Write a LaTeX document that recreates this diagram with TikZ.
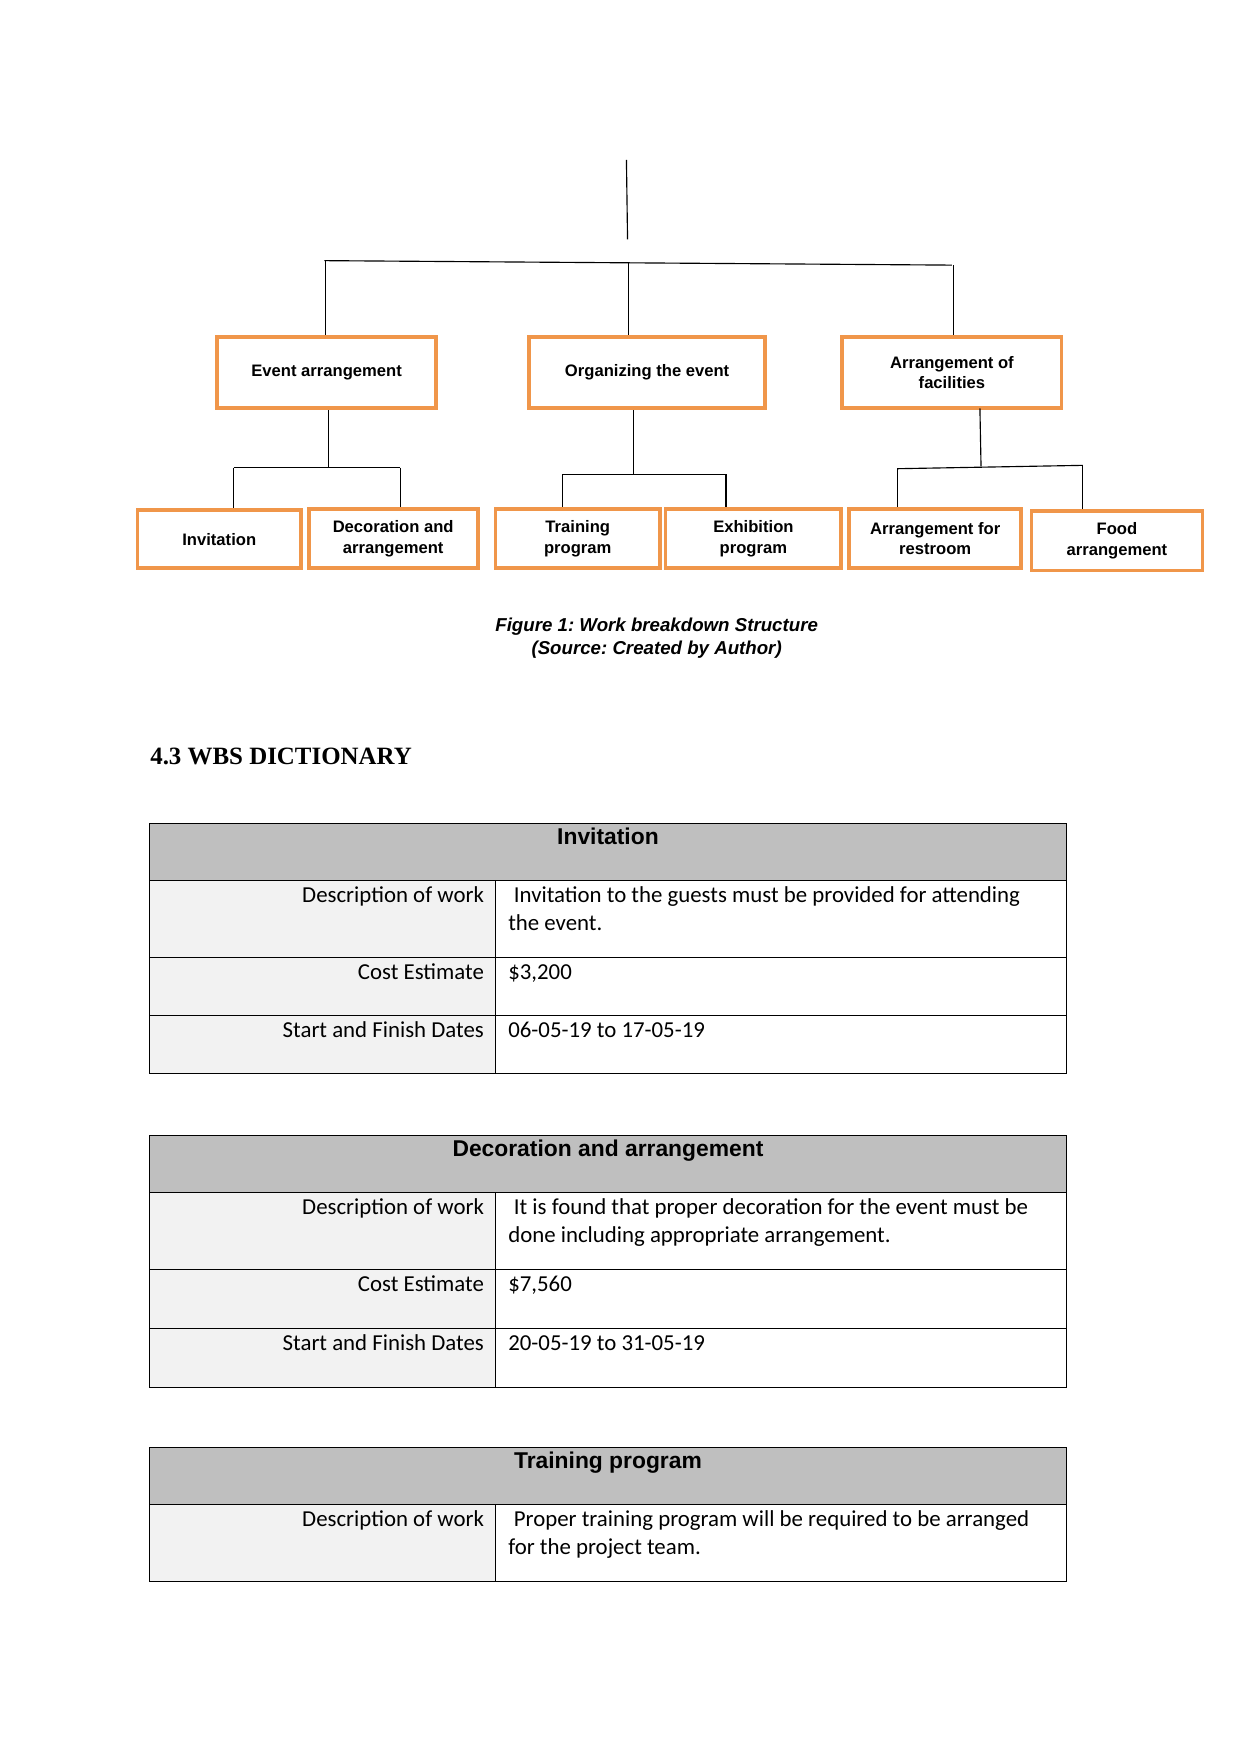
\documentclass[tikz,border=0pt]{standalone}
\usepackage{fontspec}
\setmainfont{Liberation Sans}
\newfontfamily\headserif{Liberation Serif}
\newfontfamily\carlitofont{Carlito}
\usetikzlibrary{fit}
\definecolor{wbsorange}{HTML}{F0964A}
\definecolor{hdrgray}{HTML}{BFBFBF}
\definecolor{lblgray}{HTML}{F2F2F2}
\frenchspacing
\begin{document}
\begin{tikzpicture}[x=0.018936cm, y=-0.018936cm,
  wbox/.style={draw=wbsorange, line width=1.8pt, inner sep=0pt},
  boxtext/.style={inner sep=0pt, align=center, font=\bfseries\fontsize{8}{10}\selectfont},
  conn/.style={draw=black, line width=0.55pt},
  tline/.style={draw=black, line width=0.5pt},
  hdrtext/.style={anchor=base, inner sep=0pt, font=\bfseries\fontsize{11}{13.7}\selectfont},
  lbltext/.style={anchor=base east, inner sep=0pt, font=\carlitofont\fontsize{11}{13.7}\selectfont},
  valtext/.style={anchor=base west, inner sep=0pt, font=\carlitofont\fontsize{11}{13.7}\selectfont},
  captext/.style={anchor=base, inner sep=0pt, font=\bfseries\itshape\fontsize{9}{11}\selectfont}]
\useasboundingbox (0,0) rectangle (1109,1568);

% ---------- WBS boxes ----------
\node[wbox, fit={(194,301)(390,365)}, label={[boxtext]center:Event arrangement}] (ea) {};
\node[wbox, fit={(473,301)(684,365)}, label={[boxtext]center:Organizing the event}] (og) {};
\node[wbox, fit={(753,301)(949,365)}, label={[boxtext]center:Arrangement of\\facilities}] (af) {};
\node[wbox, fit={(123,456)(269,508)}, label={[boxtext]center:Invitation}] (inv) {};
\node[wbox, fit={(276,455)(427,508)}, label={[boxtext]center:Decoration and\\arrangement}] (dec) {};
\node[wbox, fit={(443,455)(590,508)}, label={[boxtext]center:Training\\program}] (tp) {};
\node[wbox, fit={(595,455)(752,508)}, label={[boxtext]center:Exhibition\\program}] (ex) {};
\node[wbox, fit={(759,455)(913,508)}, label={[boxtext]center:Arrangement for\\restroom}] (rr) {};
\node[wbox, fit={(922,457)(1075,510)}, label={[boxtext]center:Food\\arrangement}] (fd) {};

% ---------- connectors ----------
\coordinate (r0) at (560,143);
\coordinate (r1) at (561,214);
\draw[conn] (r0) -- (r1);
\coordinate (bL) at (290,233);
\coordinate (bR) at (851,237);
\draw[conn] (bL) -- (bR);
\coordinate (d1) at (291,233);
\coordinate (d2) at (562,235);
\coordinate (d3) at (852,237);
\draw[conn] (d1) -- (d1 |- ea.north);
\draw[conn] (d2) -- (d2 |- og.north);
\draw[conn] (d3) -- (d3 |- af.north);

\coordinate (e1) at (294,418);
\coordinate (e2) at (209,418);
\coordinate (e3) at (358,418);
\draw[conn] (ea.south -| e1) -- (e1);
\draw[conn] (e2) -- (e3);
\draw[conn] (e2) -- (e2 |- inv.north);
\draw[conn] (e3) -- (e3 |- dec.north);

\coordinate (o1) at (566,424);
\coordinate (o2) at (503,424);
\coordinate (o3) at (649,424);
\draw[conn] (og.south -| o1) -- (o1);
\draw[conn] (o2) -- (o3);
\draw[conn] (o2) -- (o2 |- tp.north);
\draw[conn] (o3) -- (o3 |- ex.north);

\coordinate (f0) at (876,365);
\coordinate (f1) at (877,417);
\coordinate (f2) at (802,419);
\coordinate (f3) at (968,416);
\draw[conn] (f0) -- (f1);
\draw[conn] (f2) -- (f3);
\draw[conn] (f2) -- (f2 |- rr.north);
\draw[conn] (f3) -- (f3 |- fd.north);

% ---------- caption and heading ----------
\node[captext] (cap1) at (587,564.5) {Figure 1: Work breakdown Structure};
\node[captext] (cap2) at (587,585) {(Source: Created by Author)};
\node[anchor=base west, inner sep=0pt, font=\headserif\bfseries\fontsize{12}{14}\selectfont] (head) at (134,683) {4.3 WBS DICTIONARY};

% ---------- Table 1 ----------
\fill[hdrgray] (134,736) rectangle (953,787);
\fill[lblgray] (134,787) rectangle (443,960);
\draw[tline] (134,736) rectangle (953,960);
\draw[tline] (134,787) -- (953,787);
\draw[tline] (134,856) -- (953,856);
\draw[tline] (134,908) -- (953,908);
\draw[tline] (443,787) -- (443,960);
\node[hdrtext] (t1h) at (543.5,755) {Invitation};
\node[lbltext] (t1l1) at (433,806.5) {Description of work};
\node[valtext] (t1v1) at (454,806.5) {\begin{tabular}[t]{@{}l@{}}\hspace*{2.7pt}Invitation to the guests must be provided for attending\\the event.\end{tabular}};
\node[lbltext] (t1l2) at (433,875.3) {Cost Estimate};
\node[valtext] (t1v2) at (454,875.3) {\$3,200};
\node[lbltext] (t1l3) at (433,927.3) {Start and Finish Dates};
\node[valtext] (t1v3) at (454,927.3) {06-05-19 to 17-05-19};

% ---------- Table 2 ----------
\fill[hdrgray] (134,1015) rectangle (953,1066);
\fill[lblgray] (134,1066) rectangle (443,1240);
\draw[tline] (134,1015) rectangle (953,1240);
\draw[tline] (134,1066) -- (953,1066);
\draw[tline] (134,1135) -- (953,1135);
\draw[tline] (134,1188) -- (953,1188);
\draw[tline] (443,1066) -- (443,1240);
\node[hdrtext] (t2h) at (543.5,1034) {Decoration and arrangement};
\node[lbltext] (t2l1) at (433,1085.5) {Description of work};
\node[valtext] (t2v1) at (454,1085.5) {\begin{tabular}[t]{@{}l@{}}\hspace*{2.7pt}It is found that proper decoration for the event must be\\done including appropriate arrangement.\end{tabular}};
\node[lbltext] (t2l2) at (433,1154.3) {Cost Estimate};
\node[valtext] (t2v2) at (454,1154.3) {\$7,560};
\node[lbltext] (t2l3) at (433,1207.3) {Start and Finish Dates};
\node[valtext] (t2v3) at (454,1207.3) {20-05-19 to 31-05-19};

% ---------- Table 3 ----------
\fill[hdrgray] (134,1294) rectangle (953,1345);
\fill[lblgray] (134,1345) rectangle (443,1414);
\draw[tline] (134,1294) rectangle (953,1414);
\draw[tline] (134,1345) -- (953,1345);
\draw[tline] (443,1345) -- (443,1414);
\node[hdrtext] (t3h) at (543.5,1313) {Training program};
\node[lbltext] (t3l1) at (433,1364.5) {Description of work};
\node[valtext] (t3v1) at (454,1364.5) {\begin{tabular}[t]{@{}l@{}}\hspace*{2.7pt}Proper training program will be required to be arranged\\for the project team.\end{tabular}};
\end{tikzpicture}
\end{document}
